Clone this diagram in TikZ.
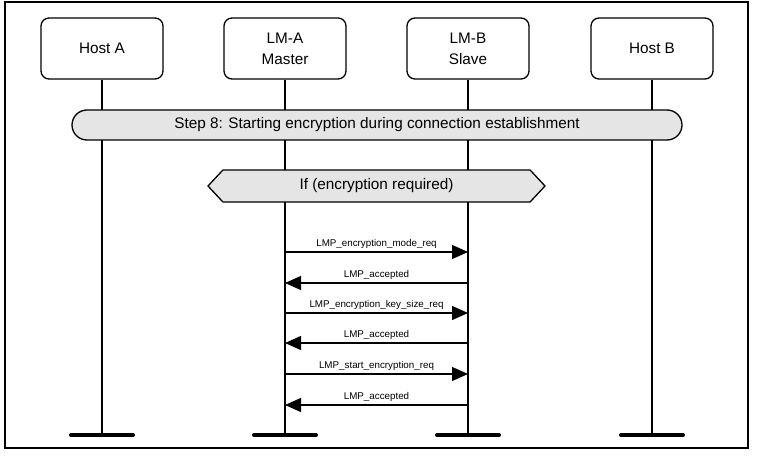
\documentclass[tikz,border=0pt]{standalone}
\usepackage{fontspec}
\setmainfont{Liberation Sans}
\usetikzlibrary{positioning,shapes.misc,shapes.symbols,arrows.meta}
\definecolor{BarGray}{rgb}{.9,.9,.9}

\begin{document}
\begin{tikzpicture}[x=1pt, y=-1pt,
		entity/.style={draw, rounded corners=8pt, line width=1.3pt, minimum width=122pt, minimum height=61pt, align=center, font=\fontsize{15.3}{21}\selectfont},
		lifeline/.style={line width=1.4pt},
		endbar/.style={line width=4pt, line cap=round},
		stepbar/.style={draw, rounded rectangle, fill=BarGray, line width=1.3pt, minimum width=610pt, minimum height=30pt, inner sep=0pt, font=\fontsize{15.3}{19}\selectfont},
		cond/.style={draw, signal, signal to=west and east, signal pointer angle=94, fill=BarGray, line width=1.3pt, minimum width=337pt, minimum height=32pt, inner sep=0pt, font=\fontsize{15.3}{19}\selectfont},
		msg/.style={-{Triangle[length=16pt, width=14pt]}, line width=1.3pt},
		msglabel/.style={above, inner sep=3pt, font=\fontsize{9.8}{12}\selectfont}
		]
		\useasboundingbox (0,0) rectangle (759,457);
		\draw[line width=1.2pt] (5,2) rectangle (748,448);

		\node[entity] (HA) at (102,48.5) {Host A};
		\node[entity] (LMA) at (285,48.5) {LM-A\\Master};
		\node[entity] (LMB) at (468,48.5) {LM-B\\Slave};
		\node[entity] (HB) at (652,48.5) {Host B};

		\coordinate (HAend) at (102,435);
		\coordinate (LMAend) at (285,435);
		\coordinate (LMBend) at (468,435);
		\coordinate (HBend) at (652,435);

		\draw[lifeline] (HA) -- (HAend);
		\draw[lifeline] (LMA) -- (LMAend);
		\draw[lifeline] (LMB) -- (LMBend);
		\draw[lifeline] (HB) -- (HBend);

		\draw[endbar] ([xshift=-31pt]HAend) -- ([xshift=31pt]HAend);
		\draw[endbar] ([xshift=-31pt]LMAend) -- ([xshift=31pt]LMAend);
		\draw[endbar] ([xshift=-31pt]LMBend) -- ([xshift=31pt]LMBend);
		\draw[endbar] ([xshift=-31pt]HBend) -- ([xshift=31pt]HBend);

		\node[stepbar] (S8) at (377,125) {Step 8: Starting encryption during connection establishment};
		\node[cond] (IF) at (376.5,186) {If (encryption required)};

		% messages
		\coordinate (a1) at (285,252); \coordinate (b1) at (468,252);
		\coordinate (a2) at (285,283); \coordinate (b2) at (468,283);
		\coordinate (a3) at (285,313); \coordinate (b3) at (468,313);
		\coordinate (a4) at (285,343); \coordinate (b4) at (468,343);
		\coordinate (a5) at (285,374); \coordinate (b5) at (468,374);
		\coordinate (a6) at (285,405); \coordinate (b6) at (468,405);

		\draw[msg] (a1) -- node[msglabel] (m1) {LMP\_encryption\_mode\_req} (b1);
		\draw[msg] (b2) -- node[msglabel] (m2) {LMP\_accepted} (a2);
		\draw[msg] (a3) -- node[msglabel] (m3) {LMP\_encryption\_key\_size\_req} (b3);
		\draw[msg] (b4) -- node[msglabel] (m4) {LMP\_accepted} (a4);
		\draw[msg] (a5) -- node[msglabel] (m5) {LMP\_start\_encryption\_req} (b5);
		\draw[msg] (b6) -- node[msglabel] (m6) {LMP\_accepted} (a6);
	\end{tikzpicture}
\end{document}
